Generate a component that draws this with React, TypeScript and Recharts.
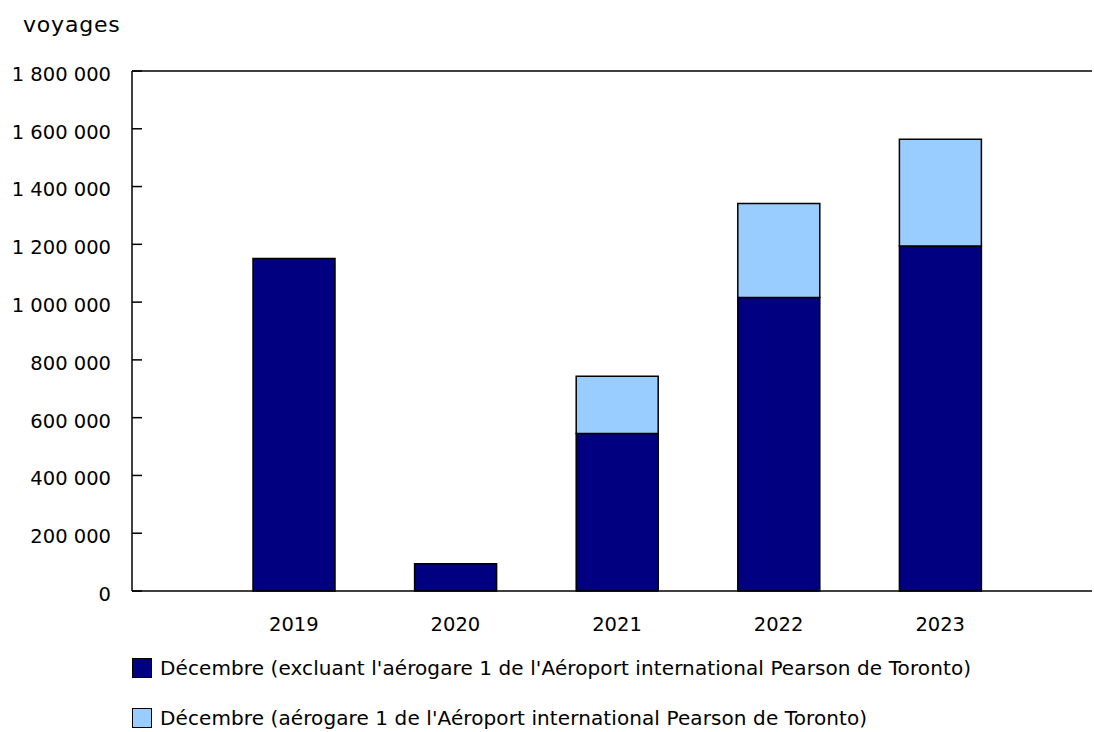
import React from 'react';
import { BarChart, Bar, XAxis, YAxis, ReferenceLine } from 'recharts';

const years = ['2019', '2020', '2021', '2022', '2023'];
const excludingT1 = [1151000, 94000, 545000, 1016000, 1194000];
const terminal1 = [0, 0, 198000, 325000, 370000];
const yTicks = [0, 200000, 400000, 600000, 800000, 1000000, 1200000, 1400000, 1600000, 1800000];

const seriesNames = [
  "Décembre (excluant l'aérogare 1 de l'Aéroport international Pearson de Toronto)",
  "Décembre (aérogare 1 de l'Aéroport international Pearson de Toronto)",
];
const seriesColors = ['#000080', '#99ccff'];

const data = years.map((year, i) => ({
  year,
  excl: excludingT1[i],
  t1: terminal1[i] || null,
}));

const FONT = 'Verdana, "DejaVu Sans", sans-serif';

if (typeof document !== 'undefined') {
  document.body.style.margin = '0';
  document.body.style.overflow = 'hidden';
}

function formatNumber(v: number): string {
  return String(v).replace(/\B(?=(\d{3})+(?!\d))/g, ' ');
}

export default function App() {
  return (
    <div style={{ width: 1094, height: 732, position: 'relative', background: '#fff', fontFamily: FONT, overflow: 'hidden' }}>
      <div style={{ position: 'absolute', left: 23, top: 12, fontSize: 22, letterSpacing: 0.8, color: '#000' }}>voyages</div>
      <BarChart
        width={1094}
        height={640}
        data={data}
        margin={{ top: 71, right: 2, left: 0, bottom: 0 }}
        barCategoryGap={0}
      >
        <YAxis
          width={132}
          domain={[0, 1800000]}
          ticks={yTicks}
          tickFormatter={formatNumber}
          axisLine={{ stroke: '#000', strokeWidth: 1.5 }}
          tickLine={{ stroke: '#000', strokeWidth: 1.5 }}
          tickSize={-10}
          tick={{ fontSize: 19.5, fill: '#000', fontFamily: FONT, dx: -29, dy: 3 }}
          interval={0}
        />
        <XAxis
          dataKey="year"
          height={49}
          padding={{ left: 81, right: 71 }}
          axisLine={{ stroke: '#000', strokeWidth: 1.5 }}
          tickLine={false}
          tick={{ fontSize: 19.5, fill: '#000', fontFamily: FONT, dy: 18 }}
        />
        <ReferenceLine y={1800000} stroke="#000" strokeWidth={1.5} />
        <Bar dataKey="excl" stackId="a" fill={seriesColors[0]} stroke="#000" strokeWidth={1.5} barSize={82} isAnimationActive={false} />
        <Bar dataKey="t1" stackId="a" fill={seriesColors[1]} stroke="#000" strokeWidth={1.5} barSize={82} isAnimationActive={false} />
      </BarChart>
      <div style={{ position: 'absolute', left: 132, top: 657, fontSize: 20, letterSpacing: 0.1, color: '#000' }}>
        {seriesNames.map((name, i) => (
          <div key={name} style={{ display: 'flex', alignItems: 'center', height: 22, marginBottom: i === 0 ? 28 : 0 }}>
            <span
              style={{
                display: 'inline-block',
                width: 18,
                height: 18,
                background: seriesColors[i],
                border: '1px solid #000',
                marginRight: 8,
                flexShrink: 0,
              }}
            />
            <span style={{ whiteSpace: 'nowrap' }}>{name}</span>
          </div>
        ))}
      </div>
    </div>
  );
}
